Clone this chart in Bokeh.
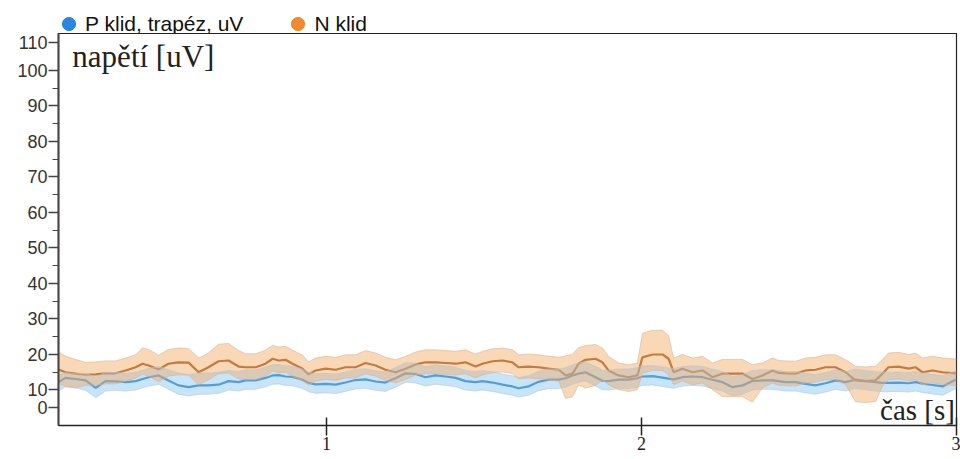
from bokeh.plotting import figure
from bokeh.layouts import column
from bokeh.models import Range1d, FixedTicker, Label, Legend, LegendItem
from bokeh.embed import file_html
from bokeh.resources import INLINE

# ---- data ----
time_s = [0.149, 0.171, 0.203, 0.235, 0.267, 0.298, 0.330, 0.362, 0.394, 0.416,
          0.435, 0.467, 0.498, 0.530, 0.562, 0.594, 0.625, 0.657, 0.689, 0.721,
          0.743, 0.775, 0.806, 0.829, 0.848, 0.870, 0.892, 0.924, 0.943, 0.965,
          0.997, 1.029, 1.060, 1.092, 1.124, 1.156, 1.187, 1.219, 1.251, 1.283,
          1.314, 1.346, 1.378, 1.410, 1.441, 1.473, 1.495, 1.527, 1.559, 1.590,
          1.610, 1.641, 1.673, 1.705, 1.737, 1.759, 1.781, 1.800, 1.822, 1.854,
          1.876, 1.895, 1.927, 1.959, 1.987, 2.003, 2.035, 2.067, 2.086, 2.102,
          2.130, 2.162, 2.194, 2.225, 2.257, 2.289, 2.321, 2.352, 2.384, 2.416,
          2.435, 2.457, 2.489, 2.521, 2.552, 2.584, 2.616, 2.648, 2.679, 2.711,
          2.743, 2.765, 2.784, 2.816, 2.848, 2.870, 2.892, 2.924, 2.956, 3.000]

n_mean = [15.8, 15.0, 14.6, 14.3, 14.4, 14.7, 14.7, 15.5, 16.4, 17.4,
          16.9, 15.8, 17.4, 17.8, 17.7, 15.0, 16.4, 18.1, 18.3, 16.6,
          16.4, 16.4, 17.4, 18.8, 18.3, 18.5, 17.4, 16.0, 14.4, 15.5,
          16.0, 15.7, 16.4, 16.4, 17.6, 16.9, 15.7, 15.0, 16.0, 17.2,
          17.8, 17.8, 17.6, 17.4, 17.8, 16.6, 17.4, 18.1, 18.3, 17.8,
          16.4, 16.6, 16.4, 16.0, 15.7, 14.1, 14.6, 17.4, 18.5, 18.8,
          17.8, 15.5, 14.1, 13.6, 14.1, 19.2, 20.0, 20.0, 18.8, 15.0,
          16.0, 15.0, 15.5, 13.6, 14.6, 14.6, 14.6, 13.1, 14.1, 15.5,
          14.8, 14.7, 14.6, 15.5, 15.7, 16.4, 16.4, 15.0, 12.7, 12.5,
          12.7, 14.6, 16.4, 16.6, 16.0, 16.4, 15.0, 15.5, 15.0, 14.7]

n_up = [5.0, 4.5, 4.0, 3.5, 3.5, 3.5, 3.5, 3.5, 3.5, 4.5,
        4.5, 4.0, 4.0, 4.0, 4.0, 4.0, 4.0, 4.8, 4.8, 4.5,
        3.8, 3.8, 3.8, 3.8, 3.8, 3.8, 3.8, 3.8, 3.5, 3.5,
        3.5, 3.5, 3.5, 3.5, 3.5, 3.5, 3.5, 3.5, 3.5, 3.5,
        3.5, 3.5, 3.5, 3.5, 3.5, 3.5, 3.5, 3.5, 3.5, 3.5,
        3.5, 3.5, 3.5, 3.5, 3.5, 5.5, 5.5, 4.5, 4.0, 4.0,
        4.0, 4.0, 3.5, 3.5, 3.5, 6.8, 6.8, 6.8, 6.5, 4.0,
        4.0, 4.0, 4.0, 4.0, 4.0, 4.0, 4.0, 4.0, 3.5, 3.5,
        3.5, 3.5, 3.5, 3.5, 3.5, 3.5, 3.5, 3.5, 4.0, 4.0,
        4.0, 4.0, 4.0, 4.0, 4.0, 4.0, 4.0, 4.0, 4.0, 4.0]

n_down = [4.0, 4.0, 4.0, 3.0, 3.0, 3.0, 3.0, 3.0, 3.0, 3.0,
          3.0, 3.5, 3.5, 3.5, 3.5, 3.5, 3.5, 3.5, 3.5, 3.5,
          3.5, 3.5, 3.5, 3.5, 3.5, 3.5, 3.5, 3.5, 3.0, 3.0,
          3.0, 3.0, 3.0, 3.0, 3.0, 3.0, 3.0, 3.0, 3.0, 3.0,
          3.2, 3.2, 3.2, 3.2, 3.2, 3.2, 3.2, 3.2, 3.2, 3.2,
          3.2, 3.2, 3.2, 3.2, 3.2, 6.5, 6.5, 6.0, 8.0, 7.5,
          5.0, 4.0, 4.0, 4.0, 4.0, 4.5, 4.5, 4.5, 4.5, 3.5,
          3.5, 3.5, 3.5, 3.5, 6.5, 6.5, 6.5, 6.5, 3.5, 3.5,
          3.5, 3.5, 3.5, 3.5, 3.5, 3.5, 3.5, 3.5, 6.0, 6.0,
          6.0, 3.5, 3.5, 3.5, 3.5, 3.5, 3.5, 3.5, 3.5, 3.5]

p_mean = [12.2, 13.4, 13.1, 12.7, 10.6, 12.5, 12.4, 12.2, 12.5, 13.1,
          13.6, 14.1, 12.7, 11.3, 10.8, 11.3, 11.3, 11.5, 12.5, 12.2,
          12.7, 12.7, 13.4, 14.1, 14.2, 13.8, 13.7, 12.9, 12.0, 11.6,
          11.7, 11.5, 12.1, 12.8, 13.0, 12.4, 12.1, 13.3, 14.7, 14.5,
          13.6, 14.1, 13.8, 13.4, 12.5, 12.2, 12.5, 12.1, 11.5, 11.0,
          10.5, 11.0, 12.3, 12.9, 12.9, 13.3, 14.1, 14.6, 15.0, 13.6,
          12.6, 12.5, 12.9, 12.9, 13.3, 13.8, 13.9, 13.5, 13.2, 13.0,
          13.6, 13.8, 13.6, 12.9, 12.2, 10.8, 11.3, 12.5, 12.7, 12.7,
          12.5, 12.2, 12.2, 11.7, 11.3, 11.9, 12.7, 12.2, 12.9, 12.5,
          12.2, 12.0, 12.0, 12.1, 11.9, 12.2, 11.8, 11.4, 11.0, 13.0]

p_up = [2.0, 1.5, 1.5, 2.0, 3.0, 2.5, 2.5, 2.5, 2.5, 2.5,
        2.5, 2.5, 3.0, 3.5, 3.5, 3.5, 3.5, 3.5, 3.0, 3.0,
        3.0, 3.0, 3.0, 3.0, 3.0, 3.0, 3.0, 3.0, 3.0, 3.0,
        3.0, 3.0, 3.0, 3.0, 3.0, 3.0, 3.0, 3.0, 3.0, 3.0,
        3.0, 3.0, 3.0, 3.0, 3.0, 3.0, 3.0, 3.0, 3.0, 3.0,
        3.0, 3.0, 3.0, 3.0, 3.0, 3.0, 3.0, 3.0, 3.0, 3.0,
        3.0, 3.0, 3.0, 3.0, 3.0, 3.0, 3.0, 3.0, 3.0, 3.0,
        3.0, 3.0, 3.0, 3.0, 3.0, 3.0, 3.0, 3.0, 3.0, 3.0,
        3.0, 3.0, 3.0, 3.0, 3.0, 3.0, 3.0, 3.0, 3.0, 3.0,
        3.0, 3.0, 3.0, 3.0, 3.0, 3.0, 3.0, 3.0, 3.0, 2.5]

p_down = [2.5, 2.5, 2.5, 2.8, 2.8, 2.8, 2.5, 2.5, 2.5, 2.5,
          2.5, 2.5, 2.5, 2.5, 2.5, 2.5, 2.5, 2.5, 2.5, 2.5,
          2.5, 2.5, 2.5, 2.5, 2.5, 2.5, 2.5, 2.5, 2.5, 2.5,
          2.5, 2.5, 2.5, 2.5, 2.5, 2.5, 2.5, 2.5, 2.5, 2.5,
          2.5, 2.5, 2.5, 2.5, 2.5, 2.5, 2.5, 2.5, 2.5, 2.5,
          2.5, 2.5, 2.5, 2.5, 2.5, 2.5, 2.5, 2.5, 2.5, 2.5,
          2.5, 2.5, 2.5, 2.5, 2.5, 2.5, 2.5, 2.5, 2.5, 2.5,
          2.5, 2.5, 2.5, 2.5, 2.5, 2.5, 2.5, 2.5, 2.5, 2.5,
          2.5, 2.5, 2.5, 2.5, 2.5, 2.5, 2.5, 2.5, 2.5, 2.5,
          2.5, 2.5, 2.5, 2.5, 2.5, 2.5, 2.5, 2.5, 2.5, 2.5]

series_labels = ["P klid, trapéz, uV", "N klid"]
y_ticks = [5, 10, 20, 30, 40, 50, 60, 70, 80, 90, 100, 108]
y_tick_labels = {5: "0", 108: "110"}
y_minor = [15, 25, 35, 45, 55, 65, 75, 85, 95]
x_ticks = [1, 2, 3]

n_hi = [m + u for m, u in zip(n_mean, n_up)]
n_lo = [m - d for m, d in zip(n_mean, n_down)]
p_hi = [m + u for m, u in zip(p_mean, p_up)]
p_lo = [m - d for m, d in zip(p_mean, p_down)]

BLUE_DOT = "#2a86de"
ORANGE_DOT = "#f08a2a"

# ---- legend strip (separate small figure above the chart) ----
lg = figure(width=960, height=33, x_range=Range1d(0, 1), y_range=Range1d(0, 1),
            output_backend="svg", toolbar_location=None,
            min_border_left=0, min_border_right=0, min_border_top=0, min_border_bottom=0)
lg.axis.visible = False
lg.grid.visible = False
lg.outline_line_color = None
r_p = lg.scatter([-5], [-5], marker="circle", size=13, fill_color=BLUE_DOT, line_color=BLUE_DOT)
r_n = lg.scatter([-5], [-5], marker="circle", size=13, fill_color=ORANGE_DOT, line_color=ORANGE_DOT)
legend = Legend(items=[LegendItem(label=series_labels[0], renderers=[r_p]),
                       LegendItem(label=series_labels[1], renderers=[r_n])],
                orientation="horizontal", location=(-6, -7),
                border_line_color=None, background_fill_alpha=0,
                label_text_font="Liberation Sans", label_text_font_size="21px",
                label_text_color="#111111",
                glyph_width=33, glyph_height=33, label_standoff=-11,
                spacing=38, padding=0, margin=0, label_height=21)
lg.add_layout(legend, "center")

# ---- main chart ----
p = figure(width=960, height=426, x_range=Range1d(0.149, 3.0), y_range=Range1d(0, 110.4),
           output_backend="svg", toolbar_location=None,
           min_border_left=58, min_border_right=4, min_border_top=0, min_border_bottom=34)
p.grid.visible = False
p.outline_line_color = "#222222"
p.outline_line_width = 1.2
p.background_fill_color = "white"
p.border_fill_color = "white"

# lines first, bands on top (in the reference the lines look tinted by the bands)
p.line(time_s, p_mean, line_color="#1f6fb8", line_width=2.2)
p.line(time_s, n_mean, line_color="#a4561a", line_width=2.2)
p.varea(x=time_s, y1=p_lo, y2=p_hi, fill_color="#8ec9f5", fill_alpha=0.5)
p.varea(x=time_s, y1=n_lo, y2=n_hi, fill_color="#f2a862", fill_alpha=0.45)
for arr, col in ((p_hi, "#b9c6d2"), (p_lo, "#b9c6d2"), (n_hi, "#d8b495"), (n_lo, "#d8b495")):
    p.line(time_s, arr, line_color=col, line_width=1, line_alpha=0.6)

# axes
ya = p.yaxis[0]
ya.ticker = FixedTicker(ticks=y_ticks, minor_ticks=y_minor)
ya.major_label_overrides = y_tick_labels
ya.major_label_text_font = "Liberation Sans"
ya.major_label_text_font_size = "18px"
ya.major_label_text_color = "#333333"
ya.major_tick_in = 0
ya.major_tick_out = 10
ya.minor_tick_in = 0
ya.minor_tick_out = 6
ya.major_label_standoff = 1
ya.axis_line_color = "#444444"
ya.axis_line_width = 2
ya.major_tick_line_color = "#444444"
ya.minor_tick_line_color = "#444444"
ya.major_tick_line_width = 1.5

xa = p.xaxis[0]
xa.ticker = FixedTicker(ticks=x_ticks, minor_ticks=[])
xa.major_label_text_font = "Liberation Serif"
xa.major_label_text_font_size = "18px"
xa.major_label_text_color = "#222222"
xa.major_tick_in = 8
xa.major_tick_out = 10
xa.major_label_standoff = 1
xa.axis_line_color = "#222222"
xa.axis_line_width = 1.5
xa.major_tick_line_color = "#222222"
xa.major_tick_line_width = 1.5

# axis titles inside the frame
p.add_layout(Label(x=0.193, y=104.0, text="napětí [uV]", text_font="Liberation Serif",
                   text_font_size="31px", text_color="#222222", text_baseline="alphabetic"))
p.add_layout(Label(x=2.995, y=4.3, text="čas [s]", text_font="Liberation Serif",
                   text_font_size="29px", text_color="#222222", text_align="right",
                   text_baseline="alphabetic"))

open("out.html", "w").write(file_html(column(lg, p), INLINE))
